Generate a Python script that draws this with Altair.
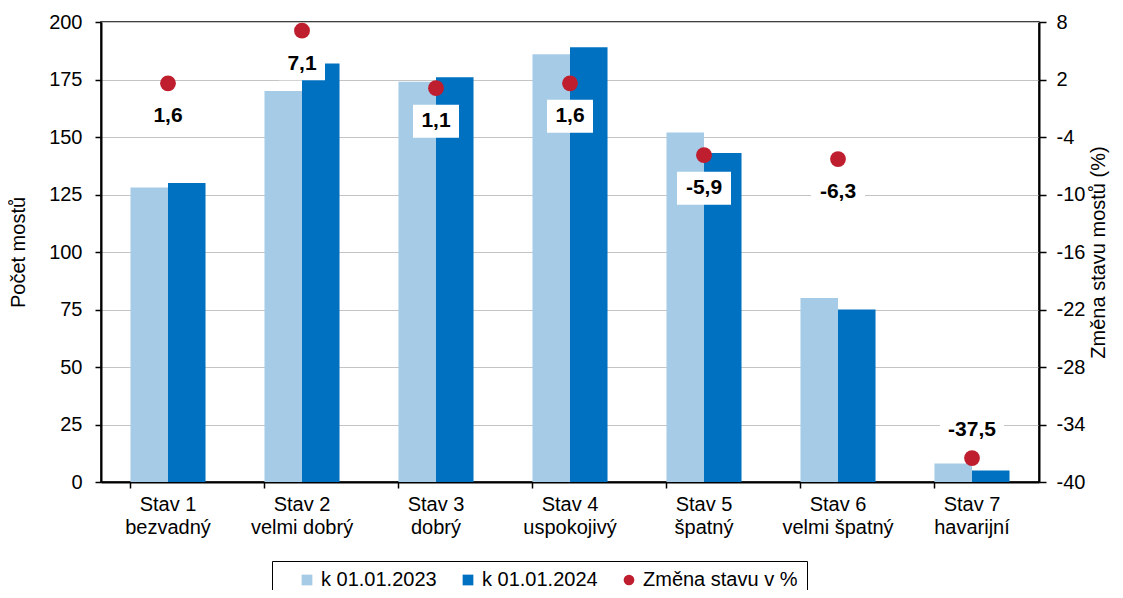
import altair as alt
import pandas as pd

categories = ["Stav 1\nbezvadný", "Stav 2\nvelmi dobrý", "Stav 3\ndobrý", "Stav 4\nuspokojivý",
              "Stav 5\nšpatný", "Stav 6\nvelmi špatný", "Stav 7\nhavarijní"]
val_2023 = [128, 170, 174, 186, 152, 80, 8]
val_2024 = [130, 182, 176, 189, 143, 75, 5]
zmena = [1.6, 7.1, 1.1, 1.6, -5.9, -6.3, -37.5]
series = ["k 01.01.2023", "k 01.01.2024", "Změna stavu v %"]
colors = ["#A6CBE6", "#0070C0", "#BE1E2D"]
left_ticks = [0, 25, 50, 75, 100, 125, 150, 175, 200]
right_ticks = [-40, -34, -28, -22, -16, -10, -4, 2, 8]

bars_df = pd.DataFrame({
    "kat": categories * 2,
    "serie": [series[0]] * 7 + [series[1]] * 7,
    "pocet": val_2023 + val_2024,
})
pts_df = pd.DataFrame({"kat": categories, "zmena": zmena, "serie": series[2]})

FONT = "Liberation Sans"
MINUS = "\u2212"

x_enc = alt.X("kat:N", sort=categories, title=None,
              scale=alt.Scale(paddingInner=0.44, paddingOuter=0.22),
              axis=alt.Axis(labelExpr="split(datum.label, '\\n')", labelAngle=0,
                            bandPosition=0, tickSize=6, labelPadding=6,
                            labelLineHeight=23))
color_enc = alt.Color("serie:N", scale=alt.Scale(domain=series, range=colors),
                      legend=alt.Legend(title="\u00a0", titleOrient="left", titlePadding=16,
                                        titleFontSize=20, titleFont=FONT,
                                        orient="none", legendX=171, legendY=539,
                                        direction="horizontal", strokeColor="#000",
                                        padding=9, columnPadding=21, labelOffset=4,
                                        symbolSize=115, labelFontSize=20, labelFont=FONT,
                                        labelColor="black", symbolStrokeWidth=0))

bars = alt.Chart(bars_df).mark_bar().encode(
    x=x_enc,
    xOffset=alt.XOffset("serie:N", sort=series[:2]),
    y=alt.Y("pocet:Q", title="Počet mostů",
            scale=alt.Scale(domain=[0, 200], nice=False),
            axis=alt.Axis(values=left_ticks, grid=True, tickSize=6, labelPadding=13,
                          titlePadding=20)),
    color=color_enc,
)

y_right = alt.Y("zmena:Q", title="Změna stavu mostů (%)",
                scale=alt.Scale(domain=[-40, 8], nice=False),
                axis=alt.Axis(orient="right", values=right_ticks, grid=False, tickSize=7,
                              labelPadding=10, labelExpr=f"replace(datum.label, '{MINUS}', '-')",
                              titleAngle=270, titleBaseline="top", titlePadding=4,
                              titleFontSize=20))

base = alt.Chart(pts_df).encode(x=alt.X("kat:N", sort=categories), y=y_right).transform_calculate(
    lab=f"replace(replace(format(datum.zmena, '.1f'), '.', ','), '{MINUS}', '-')"
)

points = base.mark_point(filled=True, opacity=1, size=250, strokeWidth=0).encode(
    color=color_enc,
    shape=alt.Shape("serie:N", scale=alt.Scale(domain=series, range=["square", "square", "circle"]),
                    legend=None),
)


def box_layer(filt, w, h, dy):
    r = h / w
    shape = f"M-1,-{r:.4f}H1V{r:.4f}H-1Z"
    return base.transform_filter(filt).mark_point(
        shape=shape, filled=True, color="white", opacity=1,
        size=w * w, strokeWidth=0, yOffset=dy)


def text_layer(filt, dy):
    return base.transform_filter(filt).mark_text(
        yOffset=dy, font=FONT, fontSize=21, fontWeight="bold", color="black",
        baseline="middle").encode(text="lab:N")


below_short = "datum.zmena > -30 && length(datum.lab) <= 3"
below_long = "datum.zmena > -30 && length(datum.lab) > 3"
above = "datum.zmena <= -30"

right_layer = alt.layer(
    points,
    box_layer(below_short, 46, 33, 33),
    box_layer(below_long, 54, 33, 33),
    box_layer(above, 64, 33, -28),
    text_layer("datum.zmena > -30", 33),
    text_layer(above, -28),
)

chart = alt.layer(bars, right_layer).resolve_scale(y="independent").properties(
    width=938, height=460,
    autosize=alt.AutoSizeParams(type="none"),
    padding={"left": 93, "top": 14, "right": 76, "bottom": 108},
).configure_view(stroke="black", strokeWidth=1.5).configure_axis(
    labelFont=FONT, titleFont=FONT, labelFontSize=20, titleFontSize=20,
    titleFontWeight="normal", labelColor="black", titleColor="black",
    domainColor="black", domainWidth=2, tickColor="black", tickWidth=1.5,
    gridColor="#C4C4C4", gridWidth=1.2,
)

chart.save("out.html", embed_options={"renderer": "svg", "actions": False})
